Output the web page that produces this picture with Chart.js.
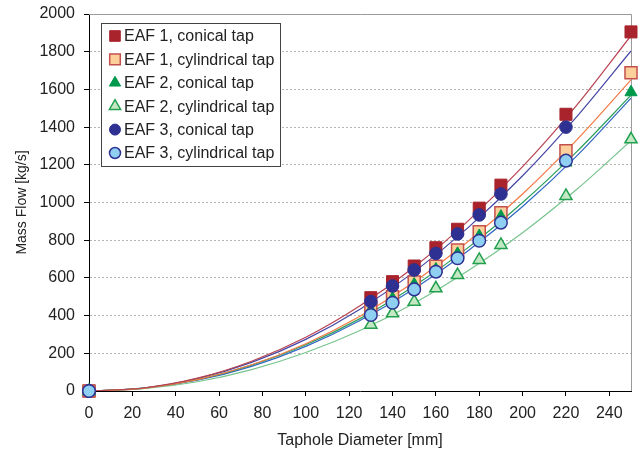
<!DOCTYPE html>
<html lang="en">
<head>
<meta charset="UTF-8">
<title>Mass Flow vs Taphole Diameter</title>
<script src="https://cdn.jsdelivr.net/npm/chart.js"></script>
<style>
    body { margin: 0; background: #fff; }
</style>
</head>
<body>
<canvas id="chart" width="641" height="454"></canvas>

<script>
    // measured points
    const diameters = [0, 130, 140, 150, 160, 170, 180, 190, 220, 250];
    const eaf1Conical = [0, 495, 580, 663, 760, 858, 970, 1092, 1468, 1905];
    const eaf1Cylindrical = [0, 440, 500, 578, 662, 748, 845, 946, 1275, 1688];
    const eaf2Conical = [0, 428, 490, 565, 645, 728, 822, 925, 1212, 1585];
    const eaf2Cylindrical = [0, 352, 412, 474, 545, 615, 695, 775, 1035, 1335];
    const eaf3Conical = [0, 474, 557, 642, 730, 833, 934, 1045, 1400, null];
    const eaf3Cylindrical = [0, 403, 468, 539, 633, 704, 797, 893, 1222, null];

    // trend lines
    const trendX = [0, 25, 50, 75, 100, 125, 150, 175, 200, 225, 250];
    const trend1 = [0, 16, 68, 158, 285, 452, 658, 904, 1190, 1517, 1885];
    const trend2 = [0, 14, 60, 139, 251, 397, 578, 794, 1045, 1332, 1650];
    const trend3 = [0, 15, 60, 137, 245, 384, 557, 762, 1000, 1270, 1569];
    const trend4 = [0, 12, 49, 113, 204, 321, 466, 639, 840, 1070, 1328];
    const trend5 = [0, 15, 66, 152, 274, 434, 632, 868, 1142, 1456, 1804];
    const trend6 = [0, 14, 57, 131, 237, 374, 543, 745, 979, 1247, 1554];

    const xTicks = [0, 20, 40, 60, 80, 100, 120, 140, 160, 180, 200, 220, 240];

    const series = [
        { label: 'EAF 1, conical tap', values: eaf1Conical, trend: trend1, style: 'rect', fill: '#a8232c', edge: '#a8232c', line: '#b84352' },
        { label: 'EAF 1, cylindrical tap', values: eaf1Cylindrical, trend: trend2, style: 'rect', fill: '#fdcf9b', edge: '#c4504d', line: '#f47a45' },
        { label: 'EAF 2, conical tap', values: eaf2Conical, trend: trend3, style: 'triangle', fill: '#00994c', edge: '#00994c', line: '#2a9e5c' },
        { label: 'EAF 2, cylindrical tap', values: eaf2Cylindrical, trend: trend4, style: 'triangle', fill: '#c4e8c4', edge: '#22a04f', line: '#78c48e' },
        { label: 'EAF 3, conical tap', values: eaf3Conical, trend: trend5, style: 'circle', fill: '#2e3192', edge: '#2e3192', line: '#4646a6' },
        { label: 'EAF 3, cylindrical tap', values: eaf3Cylindrical, trend: trend6, style: 'circle', fill: '#8fd0f2', edge: '#2e3192', line: '#2f66c4' }
    ];

    const radii = { rect: 8.5, triangle: 7, circle: 6.3 };

    function pairs(xs, ys) {
        return xs.map((x, i) => ({ x: x, y: ys[i] })).filter(p => p.y !== null);
    }

    const datasets = [];
    series.forEach((s, i) => {
        datasets.push({
            type: 'line',
            label: s.label + ' trend',
            data: pairs(trendX, s.trend),
            borderColor: s.line,
            borderWidth: 1.2,
            pointRadius: 0,
            tension: 0.4,
            cubicInterpolationMode: 'monotone',
            fill: false,
            order: 20 + i
        });
    });
    series.forEach((s, i) => {
        datasets.push({
            type: 'scatter',
            label: s.label,
            data: pairs(diameters, s.values),
            pointStyle: s.style,
            pointRadius: radii[s.style],
            pointBackgroundColor: s.fill,
            pointBorderColor: s.edge,
            pointBorderWidth: s.fill === s.edge ? 1 : 1.5,
            showLine: false,
            clip: false,
            order: 6 - i
        });
    });

    // gray top/right frame of the plot area
    const frame = {
        id: 'frame',
        beforeDatasetsDraw(chart) {
            const { ctx, chartArea: a } = chart;
            ctx.save();
            ctx.strokeStyle = '#9a9a9a';
            ctx.lineWidth = 1;
            ctx.beginPath();
            ctx.moveTo(a.left, a.top + 0.5);
            ctx.lineTo(a.right + 0.5, a.top + 0.5);
            ctx.lineTo(a.right + 0.5, a.bottom);
            ctx.stroke();
            ctx.restore();
        }
    };

    function drawMarker(ctx, style, x, y, r, fill, edge, bw) {
        ctx.beginPath();
        if (style === 'rect') {
            const h = r * Math.SQRT1_2;
            ctx.rect(x - h, y - h, 2 * h, 2 * h);
        } else if (style === 'triangle') {
            ctx.moveTo(x, y - r);
            ctx.lineTo(x + r * 0.866, y + r * 0.5);
            ctx.lineTo(x - r * 0.866, y + r * 0.5);
            ctx.closePath();
        } else {
            ctx.arc(x, y, r, 0, Math.PI * 2);
        }
        ctx.fillStyle = fill;
        ctx.fill();
        ctx.lineWidth = bw;
        ctx.strokeStyle = edge;
        ctx.stroke();
    }

    // legend box inside the plot
    const boxLegend = {
        id: 'boxLegend',
        afterDraw(chart) {
            const ctx = chart.ctx;
            const left = 101, top = 23, w = 179, h = 143;
            ctx.save();
            ctx.fillStyle = '#fff';
            ctx.fillRect(left, top, w, h);
            ctx.strokeStyle = '#444';
            ctx.lineWidth = 1;
            ctx.strokeRect(left + 0.5, top + 0.5, w, h);
            ctx.font = '16px "Liberation Sans", Arial, sans-serif';
            ctx.textBaseline = 'middle';
            series.forEach((s, i) => {
                const y = 36 + i * 23.4;
                const r = s.style === 'rect' ? 7.5 : (s.style === 'triangle' ? 6.5 : 5.5);
                drawMarker(ctx, s.style, 115, y, r, s.fill, s.edge, s.fill === s.edge ? 1 : 1.5);
                ctx.fillStyle = '#222';
                ctx.fillText(s.label, 124, y + 1);
            });
            ctx.restore();
        }
    };

    const tickFont = { family: '"Liberation Sans", Arial, sans-serif', size: 16 };

    new Chart(document.getElementById('chart'), {
        data: { datasets: datasets },
        options: {
            responsive: false,
            animation: false,
            layout: { padding: { top: 14, right: 9, left: 0, bottom: 0 } },
            plugins: {
                legend: { display: false },
                tooltip: { enabled: false }
            },
            scales: {
                x: {
                    type: 'linear',
                    min: 0,
                    max: 250,
                    afterBuildTicks: (scale) => {
                        scale.ticks = xTicks.map(v => ({ value: v }));
                    },
                    afterFit: (scale) => {
                        scale.height = 63;
                        scale.paddingLeft = 0;
                        scale.paddingRight = 0;
                    },
                    ticks: { font: tickFont, color: '#222', padding: 8, callback: v => String(v) },
                    grid: { drawOnChartArea: false, drawTicks: true, tickLength: 5, tickColor: '#000' },
                    border: { display: true, color: '#000', width: 1 },
                    title: { display: true, text: 'Taphole Diameter [mm]', font: tickFont, color: '#222', padding: { top: 0, bottom: 4 } }
                },
                y: {
                    type: 'linear',
                    min: 0,
                    max: 2000,
                    ticks: { stepSize: 200, font: tickFont, color: '#222', padding: 9, callback: v => String(v) },
                    afterFit: (scale) => {
                        scale.width = 89;
                        scale.paddingTop = 0;
                        scale.paddingBottom = 0;
                    },
                    grid: { color: '#b4b4b4', lineWidth: 1, drawTicks: true, tickLength: 5, tickColor: '#000' },
                    border: { display: true, color: '#000', width: 1, dash: [2, 2] },
                    title: {
                        display: true, text: 'Mass Flow [kg/s]', color: '#222',
                        font: { family: '"Liberation Sans", Arial, sans-serif', size: 14 },
                        padding: { top: 14, bottom: 0 }
                    }
                }
            }
        },
        plugins: [frame, boxLegend]
    });
</script>
</body>
</html>
